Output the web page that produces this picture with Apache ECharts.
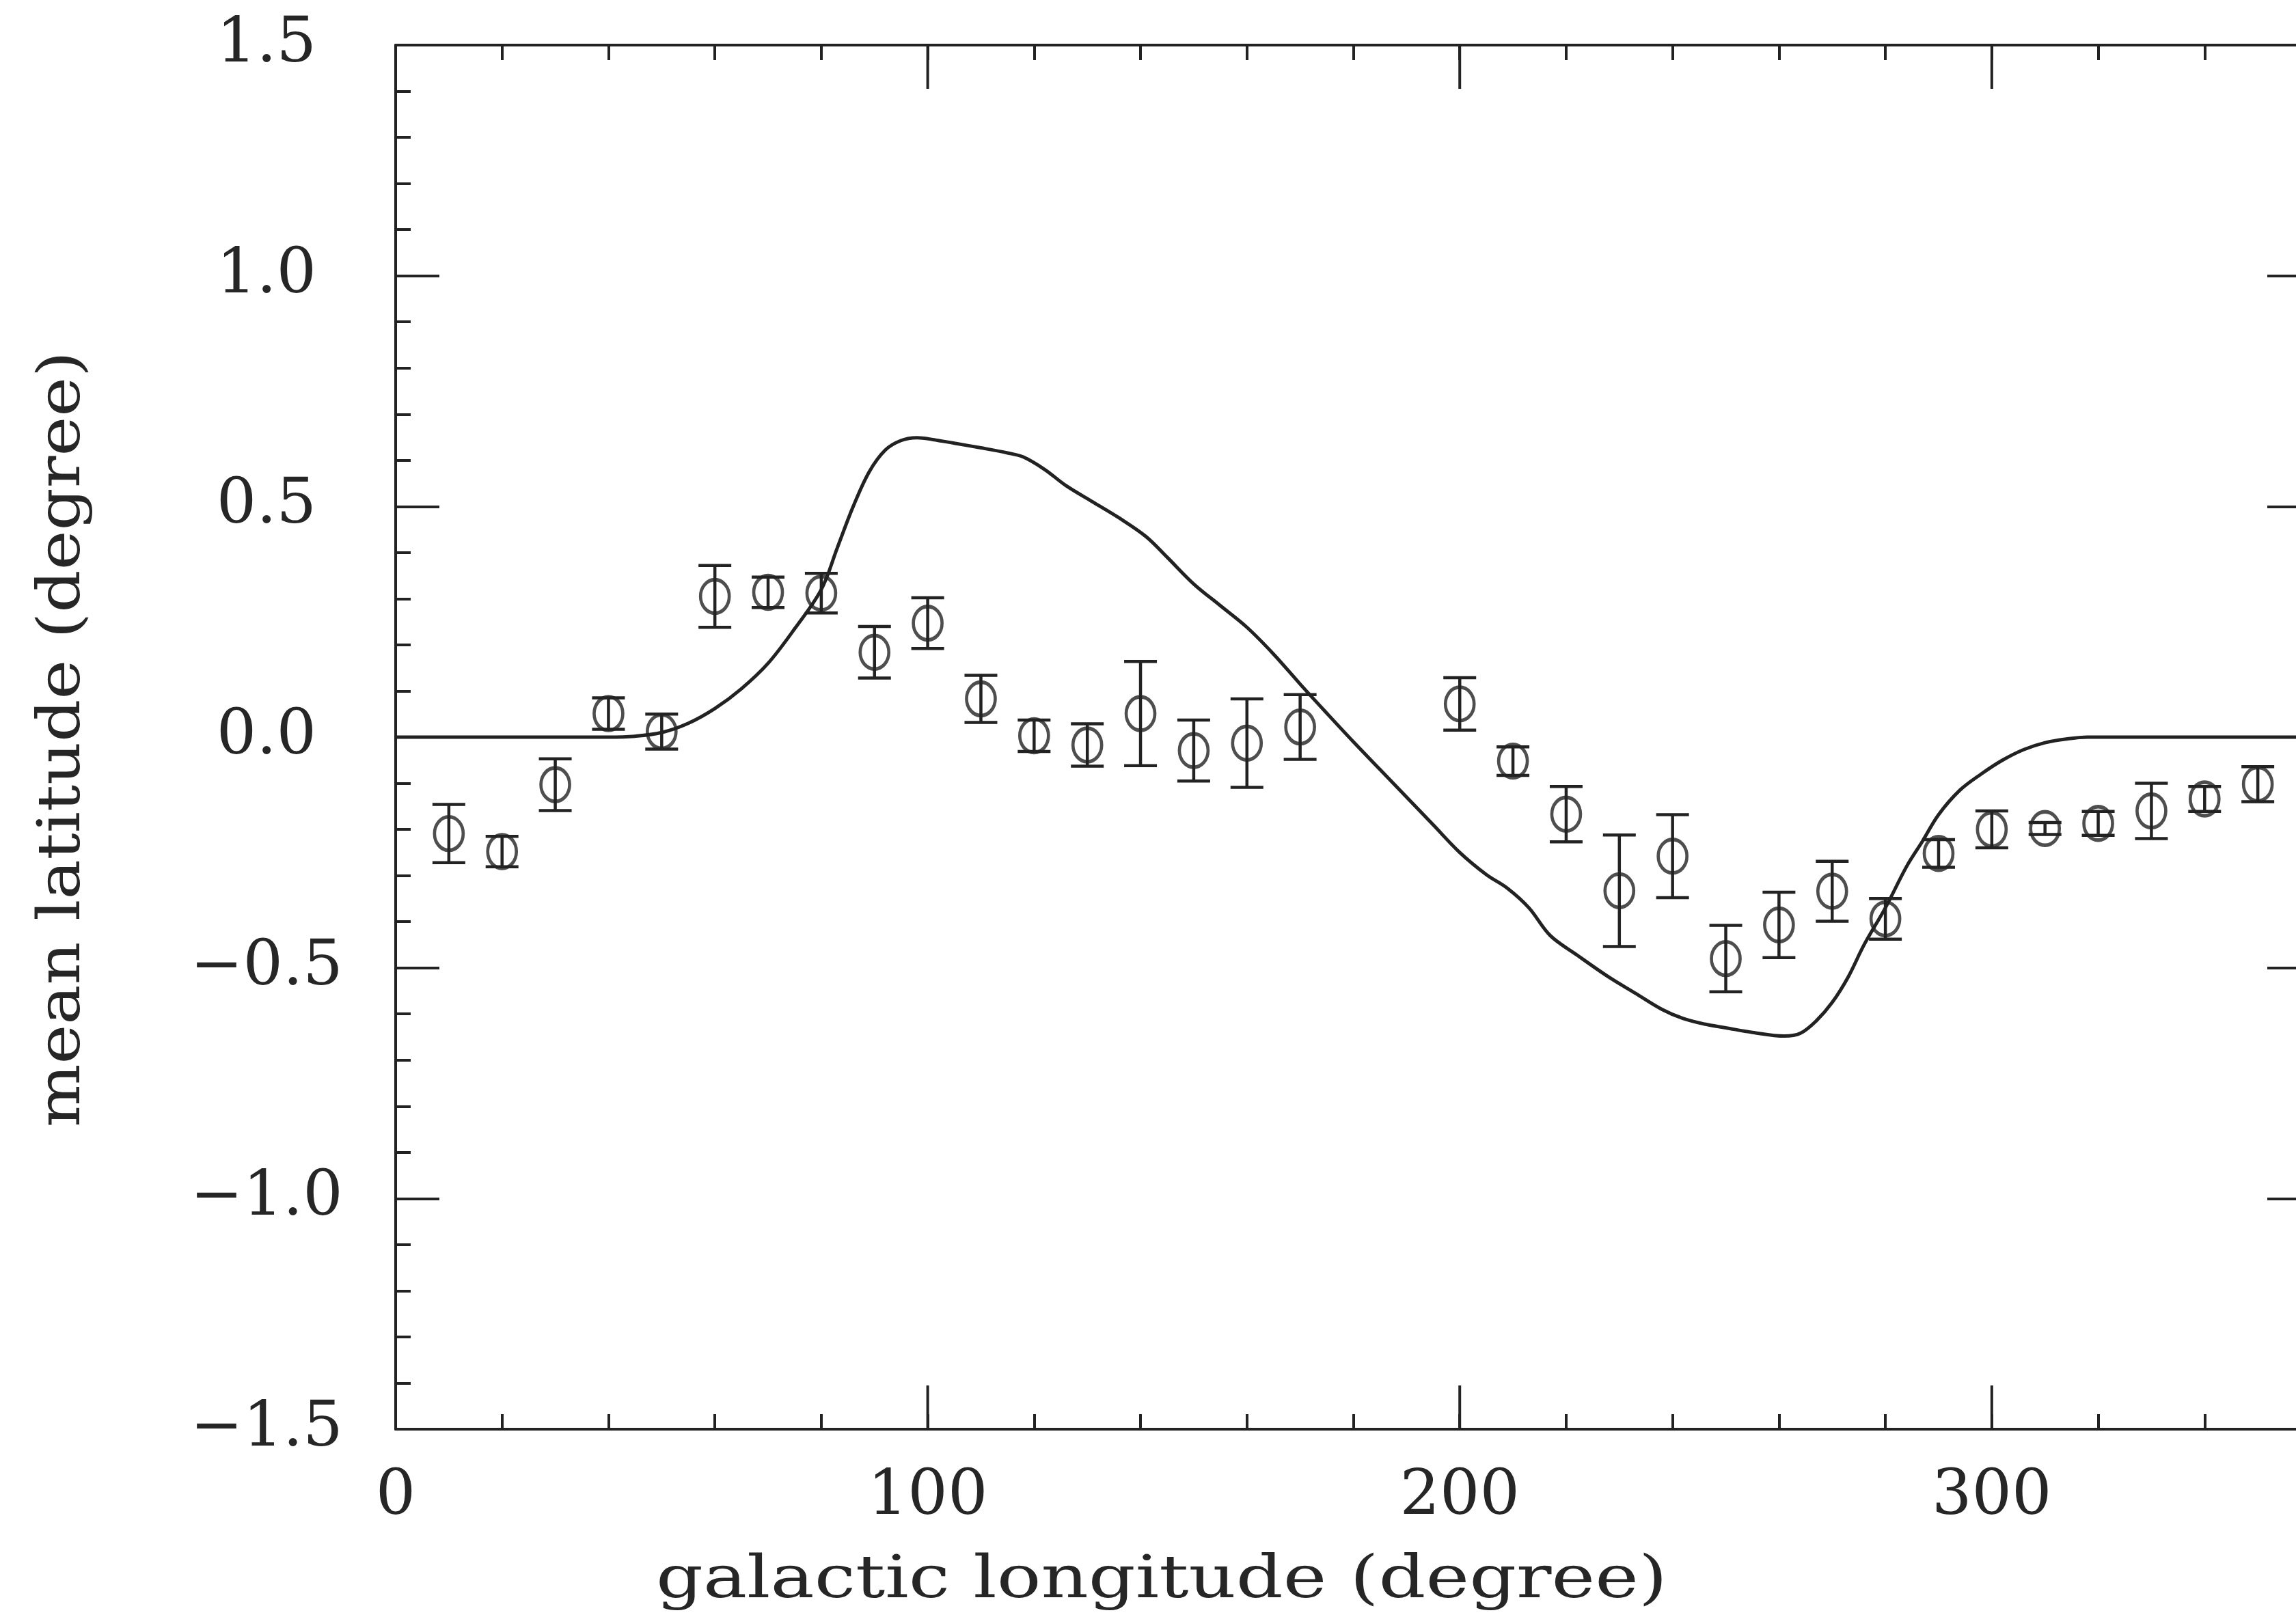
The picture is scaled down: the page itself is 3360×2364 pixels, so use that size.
<!DOCTYPE html>
<html>
<head>
<meta charset="utf-8">
<script src="https://cdn.jsdelivr.net/npm/echarts@6/dist/echarts.min.js"></script>
<style>
  html, body { margin: 0; padding: 0; background: #ffffff; }
  #chart { width: 3360px; height: 2364px; }
</style>
</head>
<body>
<div id="chart"></div>
<script>
// Observed mean latitude per 10-degree longitude bin, with 1-sigma errors
const binLongitude = [10, 20, 30, 40, 50, 60, 70, 80, 90, 100, 110, 120, 130, 140, 150, 160, 170,
                      200, 210, 220, 230, 240, 250, 260, 270, 280, 290, 300, 310, 320, 330, 340, 350];
const meanLatitude = [-0.209, -0.248, -0.103, 0.051, 0.012, 0.305, 0.314, 0.312, 0.184, 0.247, 0.083, 0.003, -0.017, 0.051, -0.029, -0.013, 0.022,
                      0.072, -0.052, -0.167, -0.333, -0.258, -0.480, -0.407, -0.334, -0.394, -0.252, -0.200, -0.198, -0.187, -0.160, -0.134, -0.102];
const latitudeError = [0.063, 0.033, 0.056, 0.034, 0.038, 0.067, 0.033, 0.043, 0.056, 0.055, 0.051, 0.034, 0.046, 0.113, 0.066, 0.096, 0.070,
                       0.057, 0.031, 0.060, 0.121, 0.090, 0.072, 0.071, 0.065, 0.044, 0.030, 0.040, 0.013, 0.026, 0.060, 0.027, 0.038];

// Model curve of the warped disk
const modelLongitude = [0, 40, 45, 50, 55, 60, 65, 70, 75, 80, 83, 86, 89, 92, 95, 98, 101, 105, 110, 115, 118, 122, 126, 131, 136, 141, 145,
                        150, 155, 160, 165, 170, 175, 180, 185, 190, 195, 200, 205, 209, 213, 217, 222, 228, 233, 238, 242, 246, 250,
                        255, 261, 264, 267, 270, 273, 276, 280, 284, 287, 290, 294, 298, 302, 306, 310, 314, 318, 360];
const modelLatitude = [0, 0, 0.002, 0.010, 0.030, 0.062, 0.105, 0.160, 0.235, 0.320, 0.410, 0.500, 0.575, 0.622, 0.643, 0.649, 0.645, 0.637,
                       0.627, 0.616, 0.607, 0.580, 0.545, 0.510, 0.475, 0.435, 0.390, 0.332, 0.285, 0.238, 0.180, 0.115, 0.052, -0.010,
                       -0.070, -0.130, -0.190, -0.250, -0.298, -0.328, -0.370, -0.430, -0.472, -0.520, -0.555, -0.590, -0.610, -0.622,
                       -0.630, -0.640, -0.648, -0.642, -0.615, -0.575, -0.520, -0.450, -0.370, -0.280, -0.225, -0.168, -0.115, -0.080,
                       -0.050, -0.027, -0.012, -0.004, 0, 0];

// Axis ticks and labels
const xLabels = ['0', '100', '200', '300'];
const xLongTicks = [0, 100, 200, 300, 360];
const yLabels = ['\u22121.5', '\u22121.0', '\u22120.5', '0.0', '0.5', '1.0', '1.5'];
const yLabelValues = [-1.5, -1.0, -0.5, 0.0, 0.5, 1.0, 1.5];

const X_MIN = 0, X_MAX = 360, X_STEP = 20;
const Y_MIN = -1.5, Y_MAX = 1.5;
const INK = '#222222';
const TEXT = '#262626';
const FONT = 'DejaVu Serif';
const LABEL_SIZE = 92;
const LONG_TICK = 64, SHORT_TICK = 22, TICK_W = 4;

// tick slots every 20 degrees along the longitude axis
const xSlots = [];
for (let v = X_MIN; v <= X_MAX; v += X_STEP) xSlots.push(String(v));

const chart = echarts.init(document.getElementById('chart'), null, { renderer: 'canvas' });

// width of a string in the title font, used to stretch the axis titles
function textWidth(str, size) {
  const c = document.createElement('canvas').getContext('2d');
  c.font = size + 'px "' + FONT + '"';
  return c.measureText(str).width;
}
const xTitle = 'galactic longitude (degree)';
const yTitle = 'mean latitude (degree)';
const titleSize = 86;
const xTitleScale = 1480 / textWidth(xTitle, titleSize);
const yTitleScale = 1136 / textWidth(yTitle, titleSize);

function frameLine() { return { show: true, onZero: false, lineStyle: { color: INK, width: TICK_W } }; }
function hiddenLine() { return { show: false, onZero: false }; }
function tickStyle() { return { color: INK, width: TICK_W }; }

// longitude labels every 100 degrees, on a slot axis spanning the same width
function labelXAxis(position) {
  return {
    type: 'category', position: position, data: xSlots, boundaryGap: false,
    axisLine: hiddenLine(),
    splitLine: { show: false },
    axisTick: { show: false },
    axisLabel: {
      show: true, margin: 54, fontFamily: FONT, fontSize: LABEL_SIZE, color: TEXT,
      interval: (idx, val) => xLabels.indexOf(val) >= 0
    }
  };
}
// frame line with short ticks every 20 degrees
function frameXAxis(position) {
  return {
    type: 'value', position: position, min: X_MIN, max: X_MAX, interval: X_STEP,
    axisLine: frameLine(),
    splitLine: { show: false },
    axisTick: { show: true, inside: true, length: SHORT_TICK, lineStyle: tickStyle() },
    axisLabel: { show: false }
  };
}

function yAxisDef(position, withLabels) {
  return {
    type: 'value', position: position, min: Y_MIN, max: Y_MAX, interval: 0.5,
    splitLine: { show: false },
    axisLine: frameLine(),
    axisTick: { show: true, inside: true, length: LONG_TICK, lineStyle: tickStyle() },
    minorTick: { show: true, splitNumber: 5, length: SHORT_TICK, lineStyle: tickStyle() },
    axisLabel: withLabels ? {
      show: true, margin: 189, align: 'center', padding: [12, 0, 0, 0],
      fontFamily: FONT, fontSize: LABEL_SIZE, color: TEXT,
      formatter: v => {
        const i = yLabelValues.findIndex(t => Math.abs(t - v) < 1e-9);
        return i >= 0 ? yLabels[i] : '';
      }
    } : { show: false }
  };
}

const option = {
  backgroundColor: '#ffffff',
  animation: false,
  grid: { left: 579, right: -22, top: 66, bottom: 272, containLabel: false, outerBoundsMode: 'none' },
  xAxis: [
    frameXAxis('bottom'),   // data axis
    labelXAxis('bottom'),
    frameXAxis('top')
  ],
  yAxis: [
    yAxisDef('left', true),
    yAxisDef('right', false)
  ],
  graphic: [
    {
      type: 'text', x: 1700, y: 2316, scaleX: xTitleScale, silent: true,
      style: { text: xTitle, font: titleSize + 'px "' + FONT + '"', fill: TEXT, align: 'center', verticalAlign: 'middle' }
    },
    {
      type: 'text', x: 94, y: 1082, rotation: Math.PI / 2, scaleX: yTitleScale, silent: true,
      style: { text: yTitle, font: titleSize + 'px "' + FONT + '"', fill: TEXT, align: 'center', verticalAlign: 'middle' }
    }
  ],
  series: [
    {
      name: 'model',
      type: 'line',
      xAxisIndex: 0, yAxisIndex: 0,
      data: modelLongitude.map((l, i) => [l, modelLatitude[i]]),
      showSymbol: false,
      smooth: 0.35,
      lineStyle: { color: INK, width: 5 },
      z: 2
    },
    {
      name: 'observed',
      type: 'scatter',
      xAxisIndex: 0, yAxisIndex: 0,
      data: binLongitude.map((l, i) => [l, meanLatitude[i]]),
      symbol: 'circle',
      symbolSize: [42, 49],
      itemStyle: { color: 'rgba(0,0,0,0)', borderColor: INK, borderWidth: 5 },
      z: 3
    },
    {
      name: 'error',
      type: 'custom',
      xAxisIndex: 0, yAxisIndex: 0,
      data: binLongitude.map((l, i) => [l, meanLatitude[i], latitudeError[i]]),
      renderItem: function (params, api) {
        const x = api.value(0), y = api.value(1), e = api.value(2);
        const hi = api.coord([x, y + e]);
        const lo = api.coord([x, y - e]);
        const hw = 24;
        const st = { stroke: INK, lineWidth: 4.5, fill: null };
        return {
          type: 'group',
          children: [
            { type: 'line', shape: { x1: hi[0], y1: hi[1], x2: lo[0], y2: lo[1] }, style: st },
            { type: 'line', shape: { x1: hi[0] - hw, y1: hi[1], x2: hi[0] + hw, y2: hi[1] }, style: st },
            { type: 'line', shape: { x1: lo[0] - hw, y1: lo[1], x2: lo[0] + hw, y2: lo[1] }, style: st }
          ]
        };
      },
      z: 4
    },
    {
      // long longitude ticks every 100 degrees on the bottom and top frame
      name: 'longitude ticks',
      type: 'custom',
      xAxisIndex: 0, yAxisIndex: 0,
      silent: true,
      clip: false,
      data: xLongTicks.map(v => [v, 0]),
      renderItem: function (params, api) {
        const x = api.value(0);
        const b = api.coord([x, Y_MIN]);
        const t = api.coord([x, Y_MAX]);
        const st = { stroke: INK, lineWidth: TICK_W, fill: null };
        return {
          type: 'group',
          children: [
            { type: 'line', shape: { x1: b[0], y1: b[1], x2: b[0], y2: b[1] - LONG_TICK }, style: st },
            { type: 'line', shape: { x1: t[0], y1: t[1], x2: t[0], y2: t[1] + LONG_TICK }, style: st }
          ]
        };
      },
      z: 5
    }
  ]
};

chart.setOption(option);
</script>
</body>
</html>
